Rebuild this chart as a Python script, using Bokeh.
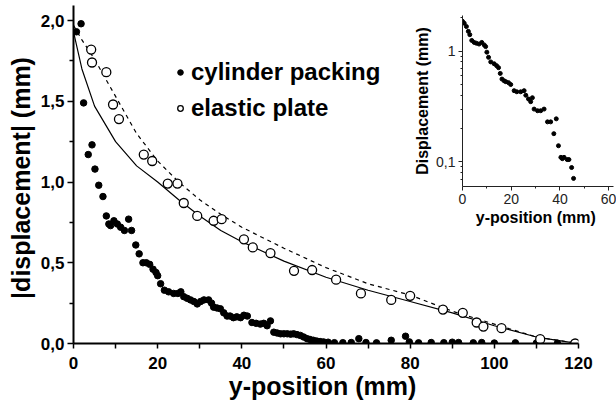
from bokeh.plotting import figure
from bokeh.models import Range1d, FixedTicker, CustomJSTickFormatter, Legend, LegendItem
from bokeh.layouts import column
from bokeh.embed import file_html
from bokeh.resources import INLINE

FONT = "Liberation Sans"

# cylinder packing (filled dots), main plot
cyl_x = [0.7, 1.8, 2.4, 3.5, 4.4, 5.1, 6.0, 7.0, 7.8, 8.4, 8.8, 9.6, 10.4, 11.2, 12.1, 13.1, 13.8,
         14.8, 15.6, 16.5, 17.3, 18.1, 18.9, 19.6, 20.0, 20.7, 21.6, 22.6, 23.8, 24.8, 25.5, 26.2,
         27.0, 27.8, 28.6, 29.4, 30.2, 31.0, 32.1, 32.8, 33.3, 34.1, 34.9, 35.7, 36.5, 37.2, 38.0,
         38.8, 39.7, 40.5, 41.3, 42.4, 43.4, 44.4, 45.2, 46.0, 46.8, 47.6, 48.4, 49.2, 50.0, 50.8,
         51.6, 52.3, 53.1, 53.9, 54.7, 55.5, 56.2, 57.0, 57.8, 58.6, 59.4, 60.5, 62.0, 64.0, 66.0,
         67.8, 69.5, 72.0, 75.5, 78.9, 79.8, 82.0, 85.0, 88.0, 90.0, 91.5, 95.0, 97.0, 100.0,
         105.0, 110.0, 115.0]
cyl_y = [1.93, 1.98, 1.49, 1.17, 1.23, 1.08, 0.98, 0.91, 0.79, 0.74, 0.73, 0.76, 0.74, 0.72, 0.70,
         0.77, 0.70, 0.61, 0.555, 0.50, 0.50, 0.49, 0.46, 0.44, 0.42, 0.37, 0.33, 0.32, 0.31, 0.31,
         0.32, 0.29, 0.28, 0.27, 0.26, 0.245, 0.26, 0.27, 0.27, 0.25, 0.225, 0.22, 0.215, 0.19,
         0.17, 0.17, 0.16, 0.165, 0.16, 0.175, 0.17, 0.13, 0.125, 0.12, 0.125, 0.11, 0.14, 0.07,
         0.065, 0.06, 0.06, 0.06, 0.058, 0.06, 0.055, 0.05, 0.04, 0.03, 0.025, 0.02, 0.015, 0.012,
         0.01, 0.008, 0.005, 0.005, 0.006, 0.03, 0.006, 0.004, 0.02, 0.045, 0.01, 0.004, 0.006,
         0.005, 0.008, 0.006, 0.004, 0.006, 0.003, 0.004, 0.003, 0.002]

# elastic plate (open circles)
plate_x = [4.2, 4.4, 7.8, 9.4, 10.8, 16.7, 18.7, 22.4, 24.7, 26.2, 29.4, 33.3, 35.2, 40.5, 42.6,
           46.8, 52.4, 56.7, 62.4, 68.3, 75.5, 80.0, 87.8, 92.5, 95.8, 97.4, 101.7, 110.9, 119.2]
plate_y = [1.82, 1.74, 1.68, 1.48, 1.39, 1.17, 1.13, 0.99, 0.99, 0.87, 0.79, 0.76, 0.77, 0.645,
           0.595, 0.56, 0.45, 0.455, 0.395, 0.31, 0.27, 0.295, 0.21, 0.19, 0.13, 0.105, 0.095,
           0.027, 0.0]

# model curves
fit_x = [0, 2, 5, 10, 15, 20, 25, 30, 35, 40, 50, 60, 70, 80, 90, 100, 110, 120]
solid_y = [1.93, 1.70, 1.47, 1.25, 1.10, 1.00, 0.89, 0.79, 0.70, 0.63, 0.51, 0.41, 0.33, 0.26,
           0.19, 0.11, 0.04, 0.0]
dashed_y = [1.97, 1.88, 1.76, 1.53, 1.30, 1.13, 1.00, 0.89, 0.80, 0.72, 0.59, 0.47, 0.37, 0.30,
            0.20, 0.12, 0.04, 0.0]

# inset (log scale) data
inset_x = [0.0, 0.7, 1.6, 2.4, 3.0, 3.8, 4.8, 5.7, 6.8, 7.9, 8.9, 9.5, 10.0, 10.7, 11.6, 13.0,
           14.0, 14.8, 15.5, 16.2, 17.1, 17.8, 18.9, 19.8, 21.2, 22.3, 23.9, 25.3, 26.0, 27.1,
           28.0, 28.7, 29.4, 30.8, 32.1, 33.5, 34.9, 36.2, 38.5, 37.5, 39.4, 40.4, 41.0, 41.7,
           43.0, 43.7, 44.8, 45.6]
inset_y = [1.86, 1.79, 1.67, 1.51, 1.41, 1.25, 1.20, 1.18, 1.16, 1.20, 1.14, 1.10, 0.98, 0.88,
           0.80, 0.77, 0.74, 0.71, 0.63, 0.56, 0.54, 0.53, 0.52, 0.50, 0.44, 0.43, 0.43, 0.44,
           0.40, 0.37, 0.35, 0.38, 0.30, 0.29, 0.29, 0.30, 0.23, 0.23, 0.245, 0.18, 0.14, 0.11,
           0.107, 0.11, 0.105, 0.105, 0.089, 0.071]

x_ticks = [0, 20, 40, 60, 80, 100, 120]
x_minor = [10, 30, 50, 70, 90, 110]
y_ticks = [0.0, 0.5, 1.0, 1.5, 2.0]
y_minor = [0.25, 0.75, 1.25, 1.75]
ix_ticks = [0, 20, 40, 60]
ix_minor = [10, 30, 50]
iy_ticks = [0.1, 1]
iy_minor = [0.07, 0.08, 0.09, 0.2, 0.3, 0.4, 0.5, 0.6, 0.7, 0.8, 0.9, 2]

W, H = 616, 408

p = figure(width=W, height=H, x_range=Range1d(0, 120), y_range=Range1d(0, 2.093),
           output_backend="svg", toolbar_location=None,
           min_border_left=73, min_border_right=38, min_border_top=5, min_border_bottom=65)
p.frame_align = False
p.outline_line_color = None
p.grid.visible = False

p.line(fit_x, solid_y, line_color="black", line_width=1.2)
p.line(fit_x, dashed_y, line_color="black", line_width=1.2, line_dash="4 4")
r1 = p.scatter(cyl_x, cyl_y, size=6.5, marker="circle", fill_color="black", line_color="black")
r2 = p.scatter(plate_x, plate_y, size=9, marker="circle", fill_color="white",
               line_color="black", line_width=1.3)

for ax in (p.xaxis[0], p.yaxis[0]):
    ax.axis_line_width = 2
    ax.axis_line_color = "black"
    ax.major_tick_line_width = 1.5
    ax.minor_tick_line_width = 1.5
    ax.major_tick_in = 0
    ax.minor_tick_in = 0
    ax.major_label_text_font = FONT
    ax.major_label_text_font_style = "bold"
    ax.major_label_text_font_size = "17px"
    ax.major_label_text_color = "black"
    ax.axis_label_text_font = FONT
    ax.axis_label_text_font_style = "bold"
    ax.axis_label_text_font_size = "25px"
    ax.axis_label_text_color = "black"

p.xaxis[0].ticker = FixedTicker(ticks=x_ticks, minor_ticks=x_minor)
p.xaxis[0].major_tick_out = 5
p.xaxis[0].minor_tick_out = 5
p.xaxis[0].major_label_standoff = 8
p.xaxis[0].axis_label = "y-position  (mm)"
p.xaxis[0].axis_label_standoff = 0

p.yaxis[0].ticker = FixedTicker(ticks=y_ticks, minor_ticks=y_minor)
p.yaxis[0].formatter = CustomJSTickFormatter(code="return tick.toFixed(1).replace('.', ',');")
p.yaxis[0].major_tick_out = 6
p.yaxis[0].minor_tick_out = 4
p.yaxis[0].major_label_standoff = 3
p.yaxis[0].axis_label = "|displacement|  (mm)"
p.yaxis[0].axis_label_standoff = 3

legend = Legend(items=[LegendItem(label="cylinder packing", renderers=[r1]),
                       LegendItem(label="elastic plate", renderers=[r2])],
                location=(100, 221), padding=0, margin=0, spacing=8,
                glyph_width=14, glyph_height=26, label_standoff=4,
                label_text_font=FONT, label_text_font_style="bold",
                label_text_font_size="24px", label_text_color="black",
                border_line_alpha=0, background_fill_alpha=0)
p.add_layout(legend)

# inset: a transparent figure of the same size, whose frame sits in the upper right corner
q = figure(width=W, height=H, x_range=Range1d(0, 62), y_range=Range1d(0.06, 2.1),
           y_axis_type="log", output_backend="svg", toolbar_location=None,
           min_border_left=462, min_border_right=3, min_border_top=15, min_border_bottom=222)
q.frame_align = False
q.background_fill_alpha = 0
q.border_fill_alpha = 0
q.outline_line_color = None
q.grid.visible = False
q.scatter(inset_x, inset_y, size=4, marker="circle", fill_color="black", line_color="black")

for ax in (q.xaxis[0], q.yaxis[0]):
    ax.axis_line_width = 1
    ax.axis_line_color = "#222222"
    ax.major_tick_in = 0
    ax.minor_tick_in = 0
    ax.major_tick_out = 4
    ax.minor_tick_out = 2
    ax.major_tick_line_color = "#222222"
    ax.minor_tick_line_color = "#222222"
    ax.major_label_text_font = FONT
    ax.major_label_text_font_size = "14px"
    ax.major_label_text_color = "#222222"
    ax.major_label_standoff = 3
    ax.axis_label_text_font = FONT
    ax.axis_label_text_font_style = "bold"
    ax.axis_label_text_font_size = "16px"
    ax.axis_label_text_color = "black"
    ax.axis_label_standoff = 2

q.xaxis[0].ticker = FixedTicker(ticks=ix_ticks, minor_ticks=ix_minor)
q.xaxis[0].axis_label = "y-position  (mm)"
q.yaxis[0].ticker = FixedTicker(ticks=iy_ticks, minor_ticks=iy_minor)
q.yaxis[0].formatter = CustomJSTickFormatter(
    code="return tick < 1 ? tick.toFixed(1).replace('.', ',') : tick.toFixed(0);")
q.yaxis[0].axis_label = "Displacement (mm)"
q.margin = (-H, 0, 0, 0)

layout = column(p, q, spacing=0)
open("out.html", "w").write(file_html(layout, INLINE))
